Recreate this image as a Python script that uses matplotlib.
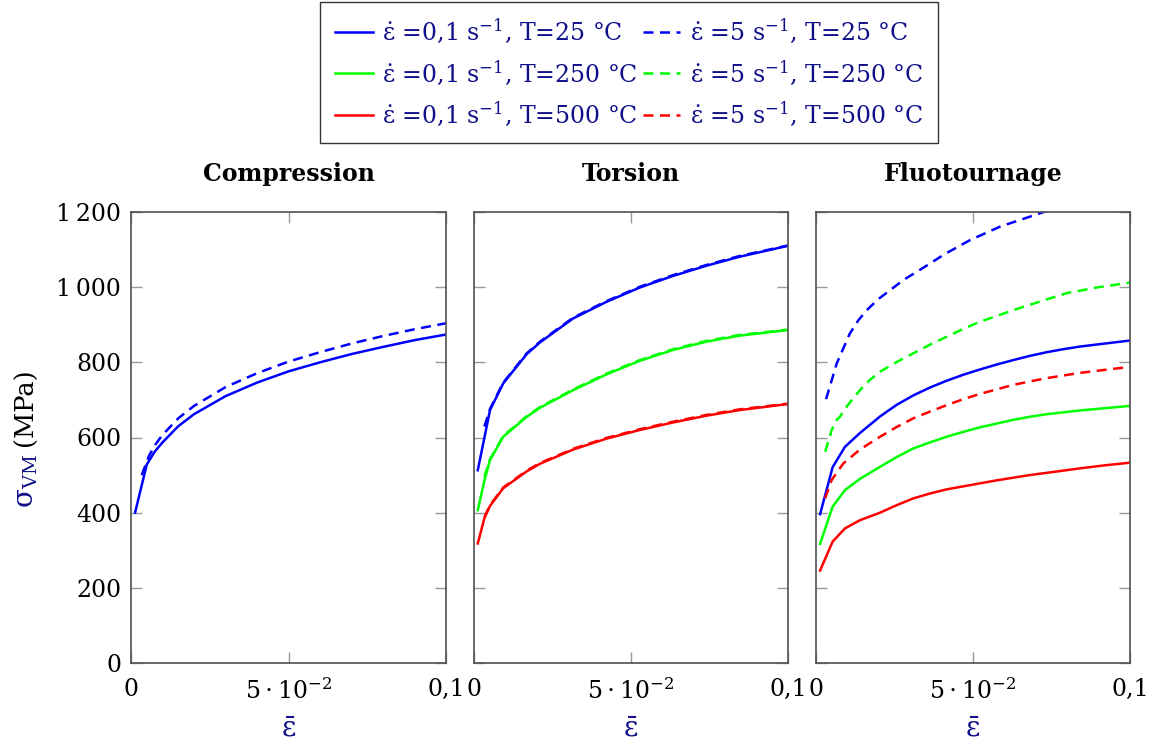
import matplotlib
matplotlib.use("Agg")
import matplotlib.pyplot as plt

plt.rcParams['font.family'] = ['DejaVu Serif']
plt.rcParams['mathtext.fontset'] = 'dejavuserif'

# ---------------- data ----------------
titles = ["Compression", "Torsion", "Fluotournage"]
y_ticks = [0, 200, 400, 600, 800, 1000, 1200]
y_tick_labels = ["0", "200", "400", "600", "800", "1\u2009000", "1\u2009200"]
x_ticks = [0, 0.05, 0.1]
x_tick_labels = ["0", r"$5\cdot10^{-2}$", "0,1"]

# Compression
comp_x_slow = [0.0013, 0.005, 0.0075, 0.01, 0.015, 0.02, 0.03, 0.04, 0.05, 0.06, 0.07, 0.08, 0.09, 0.1]
comp_slow_25 = [400, 528, 562, 587, 630, 662, 710, 746, 776, 800, 822, 841, 859, 874]
comp_x_fast = [0.0034, 0.0057, 0.0078, 0.01, 0.015, 0.02, 0.03, 0.04, 0.05, 0.06, 0.07, 0.08, 0.09, 0.1]
comp_fast_25 = [500, 551, 582, 607, 651, 684, 734, 771, 802, 827, 850, 870, 888, 904]

# Torsion
tor_x_slow = [0.0012, 0.0033, 0.0051, 0.0093, 0.0168, 0.021, 0.0316, 0.0422, 0.0528, 0.0634, 0.074, 0.0846, 0.1]
tor_slow_25 = [513, 599, 673, 744, 822, 853, 917, 961, 999, 1030, 1057, 1081, 1110]
tor_slow_250 = [407, 485, 540, 602, 655, 679, 726, 768, 804, 833, 855, 871, 886]
tor_slow_500 = [318, 385, 418, 465, 510, 530, 568, 597, 620, 640, 658, 673, 689]
tor_x_fast = [0.0033, 0.0051, 0.0093, 0.0168, 0.021, 0.0316, 0.0422, 0.0528, 0.0634, 0.074, 0.0846, 0.1]
tor_fast_25 = [629, 676, 746, 824, 855, 919, 963, 1001, 1032, 1059, 1083, 1111]
tor_fast_250 = [496, 542, 604, 657, 681, 728, 770, 806, 835, 857, 873, 887]
tor_fast_500 = [388, 420, 467, 512, 532, 570, 599, 622, 642, 660, 675, 690]

# Fluotournage
flu_x_slow = [0.0013, 0.0053, 0.0092, 0.014, 0.0204, 0.0257, 0.031, 0.0363, 0.0416, 0.0469,
              0.0522, 0.0575, 0.0628, 0.068, 0.0735, 0.0788, 0.0841, 0.092, 0.1]
flu_slow_25 = [396, 521, 575, 612, 656, 687, 712, 733, 751, 767, 781, 794, 806, 817, 827, 835, 842, 850, 858]
flu_slow_250 = [317, 416, 460, 490, 522, 548, 571, 587, 602, 615, 627, 637, 647, 655, 662, 667, 672, 678, 684]
flu_slow_500 = [246, 323, 358, 380, 400, 420, 438, 451, 462, 470, 478, 486, 493, 500, 506, 512, 518, 526, 533]
flu_x_fast_25 = [0.0032, 0.0066, 0.0108, 0.0135, 0.0162, 0.0198, 0.0236, 0.028, 0.0331, 0.041,
                 0.049, 0.0586, 0.0729, 0.085, 0.1]
flu_fast_25 = [702, 797, 877, 912, 939, 968, 992, 1020, 1046, 1088, 1125, 1161, 1201, 1235, 1270]
flu_x_fast_250 = [0.0029, 0.005, 0.0066, 0.0076, 0.01, 0.014, 0.017, 0.0204, 0.0257, 0.031, 0.0363,
                  0.0416, 0.0469, 0.0522, 0.065, 0.0798, 0.09, 0.1]
flu_fast_250 = [562, 620, 647, 655, 685, 726, 752, 775, 801, 824, 847, 868, 889, 908, 945, 984, 1000, 1012]
flu_x_fast_500 = [0.0029, 0.005, 0.0087, 0.014, 0.0204, 0.0257, 0.031, 0.0363, 0.0416, 0.0469, 0.0522,
                  0.0575, 0.0628, 0.068, 0.0735, 0.0788, 0.0841, 0.092, 0.1]
flu_fast_500 = [438, 487, 531, 568, 602, 628, 651, 669, 686, 702, 716, 728, 740, 749, 758, 765, 772, 780, 788]

legend_labels = [
    r"$\dot{\mathrm{\varepsilon}}$ =0,1 s$^{-1}$, T=25 °C",
    r"$\dot{\mathrm{\varepsilon}}$ =0,1 s$^{-1}$, T=250 °C",
    r"$\dot{\mathrm{\varepsilon}}$ =0,1 s$^{-1}$, T=500 °C",
    r"$\dot{\mathrm{\varepsilon}}$ =5 s$^{-1}$, T=25 °C",
    r"$\dot{\mathrm{\varepsilon}}$ =5 s$^{-1}$, T=250 °C",
    r"$\dot{\mathrm{\varepsilon}}$ =5 s$^{-1}$, T=500 °C",
]

# ---------------- style ----------------
BLUE, GREEN, RED = "#0000FF", "#00FF00", "#FF0000"
NAVY = "#10108A"
LW = 1.8
DASH = (0, (4, 2.6))

W, H = 1156, 745
fig = plt.figure(figsize=(W / 100, H / 100), dpi=100)

panel_px = [(131, 446), (474, 788), (816, 1130)]
top_px, bot_px = 212, 663
axes = []
for (l, r) in panel_px:
    ax = fig.add_axes([l / W, (H - bot_px) / H, (r - l) / W, (bot_px - top_px) / H])
    axes.append(ax)

panels = [
    [(comp_x_slow, comp_slow_25, BLUE, "-"), (comp_x_fast, comp_fast_25, BLUE, DASH)],
    [(tor_x_slow, tor_slow_25, BLUE, "-"), (tor_x_slow, tor_slow_250, GREEN, "-"),
     (tor_x_slow, tor_slow_500, RED, "-"),
     (tor_x_fast, tor_fast_25, BLUE, DASH), (tor_x_fast, tor_fast_250, GREEN, DASH),
     (tor_x_fast, tor_fast_500, RED, DASH)],
    [(flu_x_slow, flu_slow_25, BLUE, "-"), (flu_x_slow, flu_slow_250, GREEN, "-"),
     (flu_x_slow, flu_slow_500, RED, "-"),
     (flu_x_fast_25, flu_fast_25, BLUE, DASH), (flu_x_fast_250, flu_fast_250, GREEN, DASH),
     (flu_x_fast_500, flu_fast_500, RED, DASH)],
]

for i, ax in enumerate(axes):
    for xs, ys, c, ls in panels[i]:
        ax.plot(xs, ys, color=c, linestyle=ls, linewidth=LW)
    ax.set_xlim(0, 0.1)
    ax.set_ylim(0, 1200)
    ax.set_xticks(x_ticks)
    ax.set_xticklabels(x_tick_labels)
    ax.set_yticks(y_ticks)
    if i == 0:
        ax.set_yticklabels(y_tick_labels)
    else:
        ax.set_yticklabels([])
    ax.tick_params(direction="in", length=8, width=1, color="#9a9a9a",
                   top=True, right=True, labelsize=17)
    ax.tick_params(axis="x", pad=11)
    ax.tick_params(axis="y", pad=7)
    for s in ax.spines.values():
        s.set_color("#505050")
        s.set_linewidth(1.2)
    ax.set_title(titles[i], fontweight="bold", fontsize=17, pad=22)
    ax.set_xlabel(r"$\bar{\mathrm{\varepsilon}}$", color=NAVY, fontsize=20, labelpad=8)

# y label: sigma_VM in navy, (MPa) in black
t1 = fig.text(33 / W, (H - 508) / H, r"$\mathrm{\sigma}_{\mathrm{VM}}$", color=NAVY, fontsize=20,
              rotation=90, rotation_mode="anchor", ha="left", va="baseline")
fig.canvas.draw()
bb = t1.get_window_extent()
fig.text(33 / W, (bb.y1 + 8) / H, "(MPa)", color="black", fontsize=18.5,
         rotation=90, rotation_mode="anchor", ha="left", va="baseline")

handles = []
for c, ls in [(BLUE, "-"), (GREEN, "-"), (RED, "-"), (BLUE, DASH), (GREEN, DASH), (RED, DASH)]:
    h, = axes[0].plot([], [], color=c, linestyle=ls, linewidth=LW)
    handles.append(h)
leg = fig.legend(handles, legend_labels, loc="upper center", bbox_to_anchor=(629 / W, 1 - 2 / H),
                 ncol=2, fontsize=17, frameon=True, fancybox=False, edgecolor="black",
                 handlelength=1.6, handletextpad=0.4, columnspacing=0.2, labelspacing=0.55,
                 borderpad=0.62, borderaxespad=0, labelcolor=NAVY)
leg.get_frame().set_linewidth(1.0)

fig.savefig("out.png", dpi=100)
